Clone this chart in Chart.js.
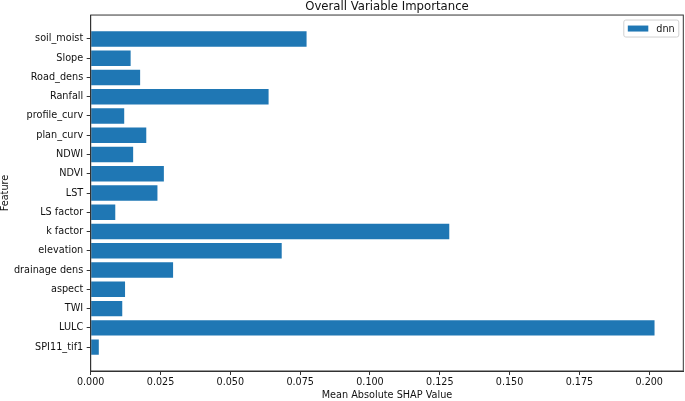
<!DOCTYPE html>
<html>
<head>
<meta charset="utf-8">
<script src="https://cdn.jsdelivr.net/npm/chart.js@4/dist/chart.umd.min.js"></script>
<style>
    html, body { margin: 0; padding: 0; background: #fff; }
    #wrap { width: 685px; height: 401px; }
</style>
</head>
<body>
<div id="wrap"><canvas id="chart" width="685" height="401"></canvas></div>
<script>
// bottom to top, same order as the barh call
const features = ['SPI11_tif1', 'LULC', 'TWI', 'aspect', 'drainage dens', 'elevation', 'k factor',
    'LS factor', 'LST', 'NDVI', 'NDWI', 'plan_curv', 'profile_curv', 'Ranfall', 'Road_dens', 'Slope', 'soil_moist'];
const dnnValues = [0.0029, 0.2019, 0.0113, 0.0123, 0.0295, 0.0684, 0.1284,
    0.0088, 0.0239, 0.0262, 0.0152, 0.0199, 0.0120, 0.0637, 0.0177, 0.0143, 0.0773];
const xTicks = [0, 0.025, 0.05, 0.075, 0.1, 0.125, 0.15, 0.175, 0.2];

const FONT = 'DejaVu Sans';
const TEXT = '#111';
const AXIS = '#333';
const BLUE = '#1f77b4';

// top/right spines + legend box inside the axes, matplotlib style
const frameAndLegend = {
    id: 'frameAndLegend',
    afterDraw(chart) {
        const { ctx, chartArea: a } = chart;
        ctx.save();
        ctx.strokeStyle = AXIS;
        ctx.lineWidth = 1;
        ctx.strokeRect(a.left, a.top, a.right - a.left, a.bottom - a.top);

        const ds = chart.data.datasets[0];
        const w = 55, h = 17;
        const x = a.right - 4.5 - w, y = a.top + 5;
        ctx.fillStyle = 'rgba(255,255,255,0.8)';
        ctx.strokeStyle = '#d0d0d0';
        ctx.beginPath();
        ctx.roundRect(x, y, w, h, 2);
        ctx.fill();
        ctx.stroke();
        ctx.fillStyle = ds.backgroundColor;
        ctx.fillRect(x + 4, y + 5.5, 20.5, 6);
        ctx.fillStyle = TEXT;
        ctx.font = '9.7px "' + FONT + '"';
        ctx.textBaseline = 'middle';
        ctx.fillText(ds.label, x + 32.5, y + h / 2 + 0.5);
        ctx.restore();
    }
};

new Chart(document.getElementById('chart'), {
    type: 'bar',
    data: {
        datasets: [{
            label: 'dnn',
            data: dnnValues.map((v, i) => ({ x: v, y: i })),
            backgroundColor: BLUE,
            borderWidth: 0,
            categoryPercentage: 1,
            barPercentage: 0.8
        }]
    },
    plugins: [frameAndLegend],
    options: {
        indexAxis: 'y',
        responsive: false,
        animation: false,
        layout: { padding: { left: 0, right: 1.7, top: 0, bottom: 0 } },
        plugins: {
            legend: { display: false },
            tooltip: { enabled: false },
            title: {
                display: true,
                fullSize: false,
                text: 'Overall Variable Importance',
                color: TEXT,
                font: { family: FONT, size: 11.7, weight: 'normal', lineHeight: 1.2 },
                padding: { top: 0, bottom: 1 }
            }
        },
        scales: {
            x: {
                type: 'linear',
                min: 0,
                max: 0.2122,
                offset: false,
                afterBuildTicks: (scale) => { scale.ticks = xTicks.map(v => ({ value: v })); },
                afterFit: (scale) => { scale.height = 30; },
                grid: { offset: false, drawOnChartArea: false, drawTicks: true, tickLength: 4, color: AXIS },
                border: { display: true, color: AXIS },
                ticks: {
                    color: TEXT,
                    padding: 2,
                    maxRotation: 0,
                    font: { family: FONT, size: 9.6 },
                    callback: (v) => Number(v).toFixed(3)
                },
                title: {
                    display: true,
                    text: 'Mean Absolute SHAP Value',
                    color: TEXT,
                    font: { family: FONT, size: 9.7 },
                    padding: 0
                }
            },
            y: {
                type: 'linear',
                min: -1.24,
                max: features.length - 1 + 1.24,
                offset: false,
                afterBuildTicks: (scale) => { scale.ticks = features.map((_, i) => ({ value: i })); },
                afterFit: (scale) => { scale.width = 90.7; },
                grid: { offset: false, drawOnChartArea: false, drawTicks: true, tickLength: 4, color: AXIS },
                border: { display: true, color: AXIS },
                ticks: {
                    color: TEXT,
                    padding: 3.5,
                    autoSkip: false,
                    font: { family: FONT, size: 9.7 },
                    callback: (v) => features[v]
                },
                title: {
                    display: true,
                    text: 'Feature',
                    color: TEXT,
                    font: { family: FONT, size: 9.7 },
                    padding: 0
                }
            }
        }
    }
});
</script>
</body>
</html>
